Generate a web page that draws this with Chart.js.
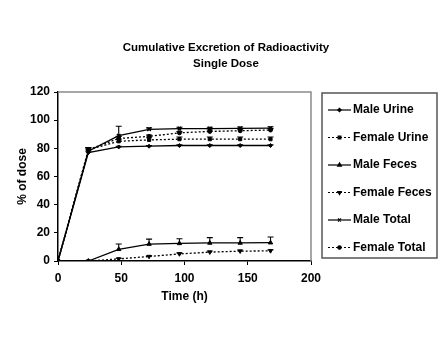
<!DOCTYPE html>
<html><head><meta charset="utf-8">
<script src="https://cdn.jsdelivr.net/npm/chart.js@4.4.1/dist/chart.umd.min.js"></script>
<style>html,body{margin:0;padding:0;background:#fff}#wrap{width:444px;height:354px}</style>
</head><body><div id="wrap"><canvas id="c" width="444" height="354"></canvas></div>
<script>
const chartTitle = ['Cumulative Excretion of Radioactivity', 'Single Dose'];
const timesH = [0, 24, 48, 72, 96, 120, 144, 168];
const seriesNames = ['Male Urine', 'Female Urine', 'Male Feces', 'Female Feces', 'Male Total', 'Female Total'];
const maleUrine   = [0, 77, 81, 81.5, 82, 82, 82, 82];
const femaleUrine = [0, 79, 85, 86, 86.5, 86.5, 86.5, 86.5];
const maleFeces   = [0, 0, 8.3, 12, 12.5, 12.8, 12.8, 13];
const femaleFeces = [0, 0, 1.5, 3.2, 5, 6.3, 7, 7.2];
const maleTotal   = [0, 78, 89, 93.5, 94, 94, 94.2, 94.3];
const femaleTotal = [0, 79, 87, 88.5, 91, 92, 92.5, 93];
const maleUrineErr   = [0, 1, 0.5, 0.5, 0.5, 0.5, 0.5, 0.5];
const femaleUrineErr = [0, 1.5, 1.5, 1.5, 1.5, 1.5, 1.5, 1.5];
const maleFecesErr   = [0, 0, 3.8, 3.5, 3.3, 3.8, 3.8, 4];
const femaleFecesErr = [0, 0, 0.5, 0.5, 0.8, 0.8, 0.8, 0.8];
const maleTotalErr   = [0, 1.5, 6.7, 1, 1, 1, 1, 1];
const femaleTotalErr = [0, 1.5, 1.5, 1, 1, 1, 1, 1];
const xTicks = [0, 50, 100, 150, 200];
const yTicks = [0, 20, 40, 60, 80, 100, 120];
const xTitle = 'Time (h)';
const yTitle = '% of dose';

const FONT = '"Liberation Sans", Arial, Helvetica, sans-serif';
function pts(arr){ return timesH.map((t,i)=>({x:t, y:arr[i]})); }

const styles = [
  {data: maleUrine, err: maleUrineErr, dash: [], ps: 'rectRot', r: 2, rot: 0},
  {data: femaleUrine, err: femaleUrineErr, dash: [2,2], ps: 'rect', r: 2.2, rot: 0},
  {data: maleFeces, err: maleFecesErr, dash: [], ps: 'triangle', r: 2.5, rot: 0},
  {data: femaleFeces, err: femaleFecesErr, dash: [2,2], ps: 'triangle', r: 2.3, rot: 180},
  {data: maleTotal, err: maleTotalErr, dash: [], ps: 'crossRot', r: 2.5, rot: 0},
  {data: femaleTotal, err: femaleTotalErr, dash: [2,2], ps: 'circle', r: 2, rot: 0}
];

const datasets = styles.map((s,i)=>({
  label: seriesNames[i],
  data: pts(s.data),
  errPlus: s.err,
  borderColor: '#000',
  backgroundColor: '#000',
  borderWidth: 1.3,
  borderDash: s.dash,
  pointStyle: s.ps,
  pointRadius: s.r,
  pointRotation: s.rot,
  pointBorderWidth: s.ps === 'crossRot' ? 1.4 : 1,
  tension: 0,
  fill: false
}));

const frame = {
  id: 'frame',
  beforeDatasetsDraw(chart){
    const {ctx, chartArea: a} = chart;
    ctx.save();
    ctx.strokeStyle = '#8a8a8a';
    ctx.lineWidth = 1.5;
    ctx.beginPath();
    ctx.moveTo(a.left, a.top);
    ctx.lineTo(a.right, a.top);
    ctx.lineTo(a.right, a.bottom);
    ctx.stroke();
    ctx.restore();
  }
};

const errorBars = {
  id: 'errorBars',
  afterDatasetsDraw(chart){
    const {ctx, scales: {x, y}} = chart;
    ctx.save();
    ctx.strokeStyle = '#000';
    ctx.lineWidth = 1.1;
    ctx.setLineDash([]);
    chart.data.datasets.forEach(ds=>{
      ds.data.forEach((p,i)=>{
        const e = ds.errPlus[i];
        if (!e) return;
        const px = x.getPixelForValue(p.x);
        const y0 = y.getPixelForValue(p.y);
        const y1 = y.getPixelForValue(p.y + e);
        ctx.beginPath();
        ctx.moveTo(px, y0); ctx.lineTo(px, y1);
        ctx.moveTo(px-3, y1); ctx.lineTo(px+3, y1);
        ctx.stroke();
      });
    });
    ctx.restore();
  }
};

const boxLegend = {
  id: 'boxLegend',
  afterDraw(chart){
    const ctx = chart.ctx;
    const L = 322, T = 93, R = 437, B = 258;
    ctx.save();
    ctx.strokeStyle = '#555';
    ctx.lineWidth = 1.5;
    ctx.strokeRect(L, T, R-L, B-T);
    chart.data.datasets.forEach((ds,i)=>{
      const yy = 110 + i*27.5;
      ctx.strokeStyle = '#000';
      ctx.fillStyle = '#000';
      ctx.lineWidth = 1.2;
      ctx.setLineDash(ds.borderDash);
      ctx.beginPath(); ctx.moveTo(328, yy); ctx.lineTo(351, yy); ctx.stroke();
      ctx.setLineDash([]);
      Chart.helpers.drawPoint(ctx, {pointStyle: ds.pointStyle, rotation: ds.pointRotation, radius: ds.pointRadius * 0.85, borderWidth: ds.pointBorderWidth}, 339.5, yy);
      ctx.font = 'bold 12px ' + FONT;
      ctx.textBaseline = 'middle';
      ctx.textAlign = 'left';
      ctx.fillText(ds.label, 353, yy);
    });
    ctx.restore();
  }
};

new Chart(document.getElementById('c'), {
  type: 'line',
  data: {datasets},
  plugins: [frame, errorBars, boxLegend],
  options: {
    responsive: false,
    animation: false,
    devicePixelRatio: 1,
    layout: {padding: {left: 8, top: 40, right: 0, bottom: 50}},
    plugins: {
      legend: {display: false},
      tooltip: {enabled: false},
      title: {
        display: true, text: chartTitle, color: '#000',
        font: {family: FONT, size: 11.5, weight: 'bold', lineHeight: '16px'},
        padding: {top: 0, bottom: 20}
      }
    },
    scales: {
      x: {
        type: 'linear', min: 0, max: 200,
        afterBuildTicks(s){ s.ticks = xTicks.map(v=>({value:v})); },
        afterFit(s){ s.height = 43; },
        grid: {drawOnChartArea: false, drawTicks: true, tickLength: 4, color: '#000', lineWidth: 1},
        border: {color: '#000', width: 1.5},
        ticks: {color: '#000', padding: 6, font: {family: FONT, size: 12, weight: 'bold'}, maxRotation: 0},
        title: {display: true, text: xTitle, color: '#000', padding: {top: 0, bottom: 0}, font: {family: FONT, size: 12, weight: 'bold'}}
      },
      y: {
        type: 'linear', min: 0, max: 120,
        afterBuildTicks(s){ s.ticks = yTicks.map(v=>({value:v})); },
        afterFit(s){ s.width = 50; },
        grid: {drawOnChartArea: false, drawTicks: true, tickLength: 4, color: '#000', lineWidth: 1},
        border: {color: '#000', width: 1.5},
        ticks: {color: '#000', padding: 4, font: {family: FONT, size: 12, weight: 'bold'}},
        title: {display: true, text: yTitle, color: '#000', padding: {top: 7, bottom: 0}, font: {family: FONT, size: 12, weight: 'bold'}}
      },
      yR: {
        type: 'linear', position: 'right', display: true,
        afterFit(s){ s.width = 133; },
        grid: {display: false}, border: {display: false}, ticks: {display: false}
      }
    }
  }
});
</script>
</body></html>
